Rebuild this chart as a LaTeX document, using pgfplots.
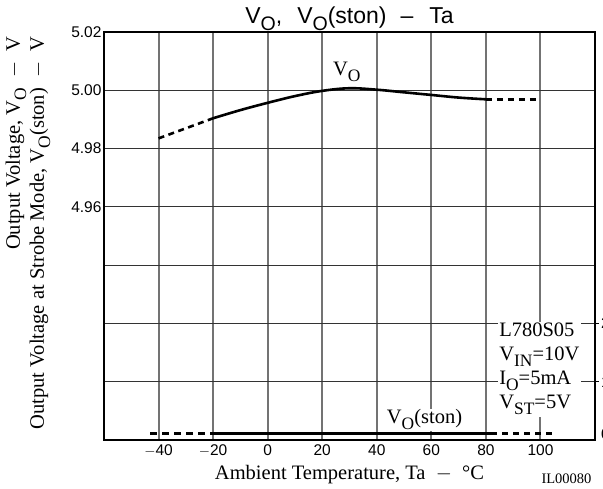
\documentclass[border=0pt]{standalone}
\usepackage{pgfplots}
\pgfplotsset{compat=1.18}
\usepackage{graphicx}
\usepackage{fontspec}
\setmainfont{Liberation Serif}
\newfontfamily\hv{Liberation Sans}
\newcommand{\sub}[1]{\raisebox{-0.3em}{\scalebox{0.85}{#1}}}
\begin{document}
\begin{tikzpicture}
\begin{axis}[name=ax,
  scale only axis, width=491pt, height=408pt,
  xmin=-60, xmax=120, ymin=4.88, ymax=5.02,
  xtick={-40,-20,0,20,40,60,80,100},
  xticklabels={$-$40,$-$20,0,20,40,60,80,100},
  ytick={4.88,4.90,4.92,4.94,4.96,4.98,5.00,5.02},
  yticklabels={,,,,4.96,4.98,5.00,5.02},
  xticklabel style={font=\hv\fontsize{15.5}{15.5}\selectfont, yshift=-1pt},
  yticklabel style={font=\hv\fontsize{15.5}{15.5}\selectfont, xshift=1pt},
  tick style={draw=none},
  xmajorgrids=true, ymajorgrids=true,
  grid style={black!80, line width=1pt},
  x grid style={black!55, line width=2pt},
  axis line style={line width=1.3pt},
  clip=false,
]
% V_O
\addplot[black, line width=2.6pt, dash pattern=on 6pt off 4.5pt] coordinates {(-40,4.9835) (-20,4.9904)};
\addplot[black, line width=2.6pt, smooth, tension=0.6] coordinates {
 (-20,4.9904) (-10,4.9932) (0,4.9957) (10,4.9980) (20,4.9998) (30,5.0007) (40,5.0002) (50,4.9993) (60,4.9984) (70,4.9975) (80,4.9969)};
\addplot[black, line width=2.6pt, dash pattern=on 6pt off 5pt] coordinates {(80,4.9969) (100,4.9969)};
% V_O(ston)
\addplot[black, line width=2.6pt, dash pattern=on 7pt off 5pt] coordinates {(-43,4.8823) (-20,4.8823)};
\addplot[black, line width=2.6pt] coordinates {(-20,4.8823) (82,4.8823)};
\addplot[black, line width=2.6pt, dash pattern=on 6pt off 5pt] coordinates {(82,4.8823) (106,4.8823)};
% labels
\node[font=\fontsize{20.5}{20.5}\selectfont] at (axis cs:29,5.0064) {V\sub{O}};
\node[fill=white, inner sep=0.5pt, font=\fontsize{20.5}{20.5}\selectfont] at (axis cs:57.5,4.8869) {V\sub{O}(ston)};
\node[fill=white, inner sep=1.5pt, anchor=north west, align=left, font=\fontsize{20.5}{24}\selectfont] at (axis cs:84.3,4.9207) {L780S05\\V\sub{IN}=10V\\I\sub{O}=5mA\\V\sub{ST}=5V};
\end{axis}
% title
\node[font=\hv\fontsize{23}{23}\selectfont, anchor=base] at ([yshift=8.5pt]ax.north) {V\sub{O},\hspace{15pt}V\sub{O}(ston)\hspace{14pt}\textendash\hspace{16pt}Ta};
% axis labels
\node[font=\fontsize{20.5}{20.5}\selectfont, anchor=base] at ([yshift=-39pt]ax.south) {Ambient Temperature, Ta\ \ $-$\ \ \textdegree C};
\node[font=\fontsize{20.5}{20.5}\selectfont, rotate=90, anchor=east] at ([xshift=-88pt,yshift=-1pt]ax.north west) {Output Voltage, V\sub{O}\ \ $-$\ \ V};
\node[font=\fontsize{20.5}{20.5}\selectfont, rotate=90, anchor=east] at ([xshift=-64pt,yshift=-1pt]ax.north west) {Output Voltage at Strobe Mode, V\sub{O}(ston)\ \ $-$\ \ V};
\node[font=\fontsize{14.5}{14.5}\selectfont, anchor=base east] at ([xshift=0pt,yshift=-43pt]ax.south east) {IL00080};
% right-side partial ticks
\draw[line width=0.8pt] ([yshift=116.6pt]ax.south east) -- ++(4pt,0);
\draw[line width=0.8pt] ([yshift=58.3pt]ax.south east) -- ++(4pt,0);
\node[font=\hv\fontsize{15.5}{15.5}\selectfont, anchor=west, inner sep=0pt] at ([xshift=6pt,yshift=116.6pt]ax.south east) {2};
\node[font=\hv\fontsize{15.5}{15.5}\selectfont, anchor=west, inner sep=0pt] at ([xshift=6pt,yshift=58.3pt]ax.south east) {1};
\node[font=\hv\fontsize{15.5}{15.5}\selectfont, anchor=west, inner sep=0pt] at ([xshift=6pt,yshift=6pt]ax.south east) {0};
\pgfresetboundingbox
\path ([xshift=-104pt,yshift=-48pt]ax.south west) rectangle ([xshift=8pt,yshift=32pt]ax.north east);
\end{tikzpicture}
\end{document}
